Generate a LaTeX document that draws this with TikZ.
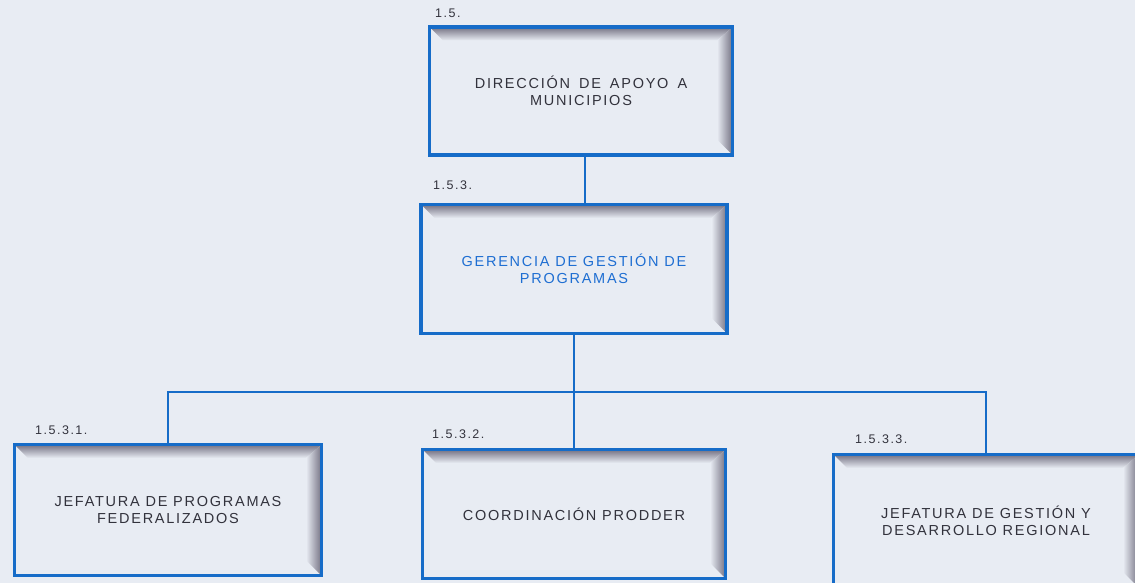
\documentclass[tikz,border=0pt]{standalone}
\usepackage{fontspec}
\usepackage{tikz}
\usetikzlibrary{calc}
\newfontfamily\boxfont[LetterSpace=12]{Liberation Sans}
\newfontfamily\numfont[LetterSpace=12]{Liberation Sans}
\definecolor{pagebg}{RGB}{232,236,243}
\definecolor{boxblue}{RGB}{22,108,200}
\definecolor{shadowgrey}{RGB}{128,126,142}
\definecolor{inkgrey}{RGB}{50,50,60}
\definecolor{inkblue}{RGB}{30,110,210}
\tikzset{
  unitbox/.style={draw=boxblue, line width=3.8pt, fill=pagebg,
    minimum width=303pt, minimum height=128pt, align=center,
    text=inkgrey, font=\boxfont\fontsize{14.5}{17}\selectfont,
    path picture={
      \coordinate (pNW) at ([shift={(1.5pt,-1.5pt)}]path picture bounding box.north west);
      \coordinate (pNE) at ([shift={(-1.5pt,-1.5pt)}]path picture bounding box.north east);
      \coordinate (pSE) at ([shift={(-1.5pt,1.5pt)}]path picture bounding box.south east);
      \shade[top color=shadowgrey, bottom color=pagebg]
        (pNW) -- (pNE) -- ($(pNE)+(-14pt,-12pt)$) -- ($(pNW)+(12pt,-12pt)$) -- cycle;
      \shade[left color=pagebg, right color=shadowgrey]
        (pNE) -- (pSE) -- ($(pSE)+(-14pt,14pt)$) -- ($(pNE)+(-14pt,-12pt)$) -- cycle;
    }},
  numlabel/.style={anchor=west, inner sep=0pt, text=inkgrey,
    font=\numfont\fontsize{12.5}{14}\selectfont},
  link/.style={draw=boxblue, line width=1.5pt}
}
\newcommand{\wgap}{\hspace{9pt}}
\begin{document}
\begin{tikzpicture}[x=1pt,y=-1pt]
  \useasboundingbox (0,0) rectangle (1135,583);
  \clip (0,0) rectangle (1135,583);
  \fill[pagebg] (0,0) rectangle (1135,583);

  % upper levels
  \node[unitbox] (dir) at (581,91) {DIRECCIÓN\wgap DE\wgap APOYO\wgap A\\MUNICIPIOS};
  \node[unitbox, minimum width=306pt, minimum height=129pt, text=inkblue] (ger) at (574,269)
    {GERENCIA DE GESTIÓN DE\\PROGRAMAS};

  % lower level
  \node[unitbox, minimum width=307pt, minimum height=131pt] (jpf) at (168,510)
    {JEFATURA DE PROGRAMAS\\FEDERALIZADOS};
  \node[unitbox, minimum width=303pt, minimum height=129pt] (cpr) at (574,514)
    {COORDINACIÓN PRODDER};
  \node[unitbox, minimum width=305pt, minimum height=133pt] (jgd) at (986,521)
    {JEFATURA DE GESTIÓN Y\\DESARROLLO REGIONAL};

  % numbering
  \node[numlabel] (ndir) at (435,13) {1.5.};
  \node[numlabel] (nger) at (433,185) {1.5.3.};
  \node[numlabel] (njpf) at (35,430) {1.5.3.1.};
  \node[numlabel] (ncpr) at (432,434) {1.5.3.2.};
  \node[numlabel] (njgd) at (855,439) {1.5.3.3.};

  % connectors
  \coordinate (bus) at (574,392);
  \draw[link] ([xshift=4pt]dir.south) -- ([xshift=4pt]dir.south |- ger.north);
  \draw[link] (ger.south) -- (bus);
  \draw[link] (jpf.north) |- (bus) -| (jgd.north);
  \draw[link] (bus) -- (cpr.north);
\end{tikzpicture}
\end{document}
